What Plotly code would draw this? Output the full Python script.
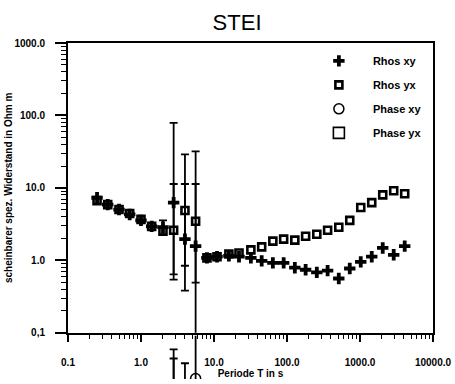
import plotly.graph_objects as go

# ---------------- data ----------------
PERIOD = [0.25, 0.35, 0.5, 0.7, 1.0, 1.4, 2.0, 2.8, 4.0, 5.6, 8.0, 11.0, 16.0, 22.0, 32.0,
          45.0, 64.0, 90.0, 128.0, 180.0, 256.0, 360.0, 512.0, 724.0, 1024.0, 1448.0,
          2048.0, 2896.0, 4096.0]

RHOS_XY = [7.3, 5.87, 5.02, 4.29, 3.56, 2.94, 2.86, 6.25, 1.96, 1.57, 1.08, 1.12, 1.15, 1.12, 1.08,
           0.98, 0.92, 0.92, 0.79, 0.74, 0.68, 0.72, 0.56, 0.77, 0.95, 1.12,
           1.48, 1.19, 1.57]
RHOS_XY_HI = [None, None, None, None, None, None, 3.56, 79.0, 29.0, 31.8, None, None, None, None, None,
              None, None, None, None, None, None, None, None, None, None, None,
              None, None, None]
RHOS_XY_LO = [None, None, None, None, None, None, 2.29, 0.54, 0.38, 0.001, None, None, None, None, None,
              None, None, None, None, None, None, None, None, None, None, None,
              None, None, None]

RHOS_YX = [6.66, 5.87, 5.02, 4.43, 3.67, 2.94, 2.52, 2.60, 4.87, 3.45, 1.08, 1.12, 1.22, 1.26, 1.39,
           1.53, 1.84, 1.96, 1.90, 2.15, 2.29, 2.60, 2.86, 3.56, 5.35, 6.25,
           8.0, 9.1, 8.3]
RHOS_YX_HI = [None, None, None, None, None, None, None, 11.3, 11.3, 11.3, None, None, None, None, None,
              None, None, None, None, None, None, None, None, None, None, None,
              None, None, None]
RHOS_YX_LO = [None, None, None, None, None, None, None, 0.64, 0.84, 0.49, None, None, None, None, None,
              None, None, None, None, None, None, None, None, None, None, None,
              None, None, None]

# phase (degrees) - only the top of the phase panel shows at the bottom of the picture
PHASE_XY_PERIOD = [2.8, 5.6]
PHASE_XY = [25.0, 35.5]
PHASE_XY_HI = [72.5, 100.0]
PHASE_XY_LO = [10.0, 10.0]
PHASE_YX_PERIOD = [2.8, 4.0]
PHASE_YX = [25.0, 20.0]
PHASE_YX_HI = [61.0, 55.0]
PHASE_YX_LO = [10.0, 10.0]

X_TICKVALS = [0.1, 1, 10, 100, 1000, 10000]
X_TICKTEXT = ["0.1", "1.0", "10.0", "100.0", "1000.0", "10000.0"]
Y_TICKVALS = [0.1, 1, 10, 100, 1000]
Y_TICKTEXT = ["0,1", "1.0", "10.0", "100.0", "1000.0"]

TITLE = "STEI"
X_TITLE = "Periode T in s"
Y_TITLE = "scheinbarer spez. Widerstand in Ohm m"

# ---------------- figure ----------------
FONT = "Liberation Sans, Arial, Helvetica, sans-serif"
BLACK = "#000000"


def err_subset(t, v, hi, lo):
    xs, ys, plus, minus = [], [], [], []
    for ti, vi, h, l in zip(t, v, hi, lo):
        if h is None:
            continue
        xs.append(ti)
        ys.append(vi)
        plus.append(h - vi)
        minus.append(vi - l)
    return xs, ys, plus, minus


fig = go.Figure()

# error bars (drawn underneath the markers)
for hi, lo, vals in [(RHOS_XY_HI, RHOS_XY_LO, RHOS_XY), (RHOS_YX_HI, RHOS_YX_LO, RHOS_YX)]:
    ex, ey, ep, em = err_subset(PERIOD, vals, hi, lo)
    fig.add_trace(go.Scatter(
        x=ex, y=ey, mode="markers", showlegend=False, hoverinfo="skip",
        marker=dict(size=1, color="rgba(0,0,0,0)"),
        error_y=dict(type="data", symmetric=False, array=ep, arrayminus=em,
                     color=BLACK, thickness=1.8, width=4),
    ))

fig.add_trace(go.Scatter(
    x=PERIOD, y=RHOS_XY, mode="markers", name="Rhos xy", legendgroup="a",
    marker=dict(symbol="cross", size=9.5, color=BLACK, line=dict(width=0)),
))
fig.add_trace(go.Scatter(
    x=PERIOD, y=RHOS_YX, mode="markers", name="Rhos yx", legendgroup="b",
    marker=dict(symbol="square-open", size=7, color=BLACK, line=dict(width=2.6, color=BLACK)),
))
fig.add_trace(go.Scatter(
    x=PHASE_XY_PERIOD, y=PHASE_XY, mode="markers", name="Phase xy", legendgroup="c",
    xaxis="x", yaxis="y2",
    marker=dict(symbol="circle-open", size=10, color=BLACK, line=dict(width=1.5, color=BLACK)),
    error_y=dict(type="data", symmetric=False,
                 array=[h - v for h, v in zip(PHASE_XY_HI, PHASE_XY)],
                 arrayminus=[v - l for v, l in zip(PHASE_XY, PHASE_XY_LO)],
                 color=BLACK, thickness=1.8, width=4),
))
fig.add_trace(go.Scatter(
    x=PHASE_YX_PERIOD, y=PHASE_YX, mode="markers", name="Phase yx", legendgroup="d",
    xaxis="x", yaxis="y2",
    marker=dict(symbol="square-open", size=11, color=BLACK, line=dict(width=1.6, color=BLACK)),
    error_y=dict(type="data", symmetric=False,
                 array=[h - v for h, v in zip(PHASE_YX_HI, PHASE_YX)],
                 arrayminus=[v - l for v, l in zip(PHASE_YX, PHASE_YX_LO)],
                 color=BLACK, thickness=1.8, width=4),
))

tickfont = dict(family=FONT, size=10, color=BLACK, weight="bold")

fig.update_layout(
    width=455, height=384,
    margin=dict(l=68, r=22, t=43, b=0),
    paper_bgcolor="white", plot_bgcolor="white",
    title=dict(text=TITLE, x=0.521, xanchor="center", y=1 - 22 / 384, yanchor="middle",
               yref="container", font=dict(family=FONT, size=22, color=BLACK)),
    showlegend=True,
    legend=dict(x=0.649, y=0.99, xanchor="left", yanchor="top", bgcolor="rgba(0,0,0,0)",
                font=dict(family=FONT, size=11, color=BLACK, weight="bold"),
                itemsizing="trace", tracegroupgap=5, itemwidth=58),
    xaxis=dict(type="log", range=[-1, 4], anchor="y",
               tickmode="array", tickvals=X_TICKVALS, ticktext=X_TICKTEXT,
               ticks="outside", ticklen=7, tickwidth=1.5, tickcolor=BLACK,
               minor=dict(ticks="outside", ticklen=4, tickwidth=1, tickcolor=BLACK, dtick="D1", showgrid=False),
               showline=True, linewidth=2, linecolor=BLACK, mirror=True,
               showgrid=False, zeroline=False, tickfont=tickfont, ticklabelstandoff=12,
               title=dict(text=X_TITLE, font=dict(family=FONT, size=10, color=BLACK, weight="bold"), standoff=3)),
    yaxis=dict(type="log", range=[-1, 3], domain=[0.1378, 1], anchor="x",
               tickmode="array", tickvals=Y_TICKVALS, ticktext=Y_TICKTEXT,
               ticks="outside", ticklen=11, tickwidth=1.5, tickcolor=BLACK,
               minor=dict(ticks="outside", ticklen=5, tickwidth=1, tickcolor=BLACK, dtick="D1", showgrid=False),
               showline=True, linewidth=2, linecolor=BLACK, mirror=True,
               showgrid=False, zeroline=False, tickfont=tickfont, ticklabelstandoff=8,
               title=dict(text=Y_TITLE, font=dict(family=FONT, size=10, color=BLACK, weight="bold"), standoff=0)),
    yaxis2=dict(range=[35, 90], domain=[0, 0.129], anchor="x", visible=False),
)

fig.write_html("out.html")
